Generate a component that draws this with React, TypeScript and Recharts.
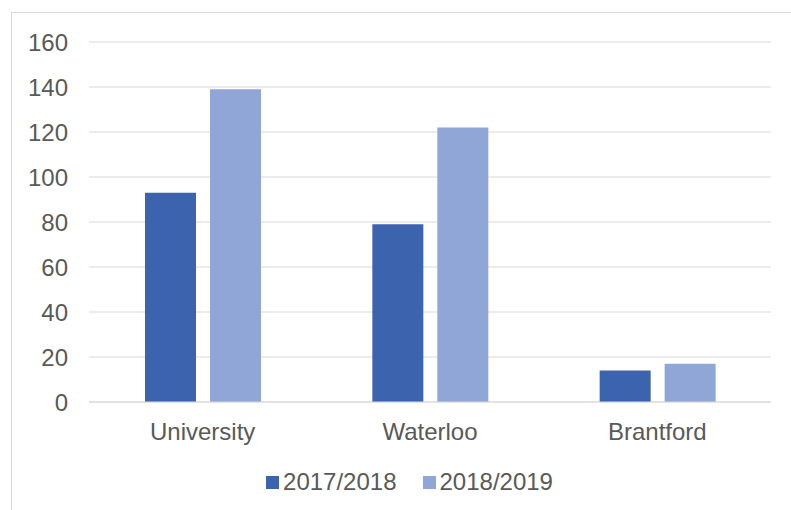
import React from 'react';
import { BarChart, Bar, XAxis, YAxis, CartesianGrid, Legend } from 'recharts';

const campuses = ['University', 'Waterloo', 'Brantford'];
const year2017 = [93, 79, 14];
const year2018 = [139, 122, 17];
const yTicks = [0, 20, 40, 60, 80, 100, 120, 140, 160];

const seriesNames = ['2017/2018', '2018/2019'];
const colors = ['#3C64AE', '#8FA6D6'];
const textColor = '#595959';
const gridColor = '#D9D9D9';
const font = '"Liberation Sans", Arial, sans-serif';

const chartData = campuses.map((name, i) => ({
  name,
  y2017: year2017[i],
  y2018: year2018[i],
}));

const LegendContent = () => (
  <div
    style={{
      display: 'flex',
      justifyContent: 'center',
      alignItems: 'center',
      height: 24,
      width: 791,
      paddingLeft: 28,
      boxSizing: 'border-box',
      fontFamily: font,
      fontSize: 24,
      color: textColor,
    }}
  >
    {seriesNames.map((s, i) => (
      <div key={s} style={{ display: 'flex', alignItems: 'center', marginRight: i === 0 ? 26 : 0 }}>
        <span style={{ display: 'inline-block', width: 13, height: 13, background: colors[i], marginRight: 4 }} />
        <span>{s}</span>
      </div>
    ))}
  </div>
);

export default function App() {
  return (
    <div
      style={{
        position: 'absolute',
        left: 0,
        top: 0,
        width: 791,
        height: 510,
        overflow: 'hidden',
        background: '#fff',
      }}
    >
      <div
        style={{
          position: 'absolute',
          left: 11,
          top: 12,
          width: 800,
          height: 520,
          border: `1px solid ${gridColor}`,
          boxSizing: 'border-box',
        }}
      />
      <div style={{ position: 'absolute', left: 0, top: 0 }}>
        <BarChart
          width={791}
          height={510}
          data={chartData}
          margin={{ top: 42, right: 20, bottom: 0, left: 0 }}
          barSize={51}
          barGap={14}
        >
          <CartesianGrid vertical={false} stroke={gridColor} />
          <XAxis
            dataKey="name"
            height={84}
            axisLine={{ stroke: gridColor }}
            tickLine={false}
            tickSize={0}
            tickMargin={21}
            tick={{ fill: textColor, fontSize: 24, fontFamily: font }}
          />
          <YAxis
            width={89}
            domain={[0, 160]}
            ticks={yTicks}
            axisLine={false}
            tickLine={false}
            tickSize={0}
            tickMargin={21}
            tick={{ fill: textColor, fontSize: 24, fontFamily: font }}
          />
          <Legend
            verticalAlign="bottom"
            height={24}
            wrapperStyle={{ top: 470, left: 0 }}
            content={() => <LegendContent />}
          />
          <Bar dataKey="y2017" name={seriesNames[0]} fill={colors[0]} isAnimationActive={false} />
          <Bar dataKey="y2018" name={seriesNames[1]} fill={colors[1]} isAnimationActive={false} />
        </BarChart>
      </div>
    </div>
  );
}
